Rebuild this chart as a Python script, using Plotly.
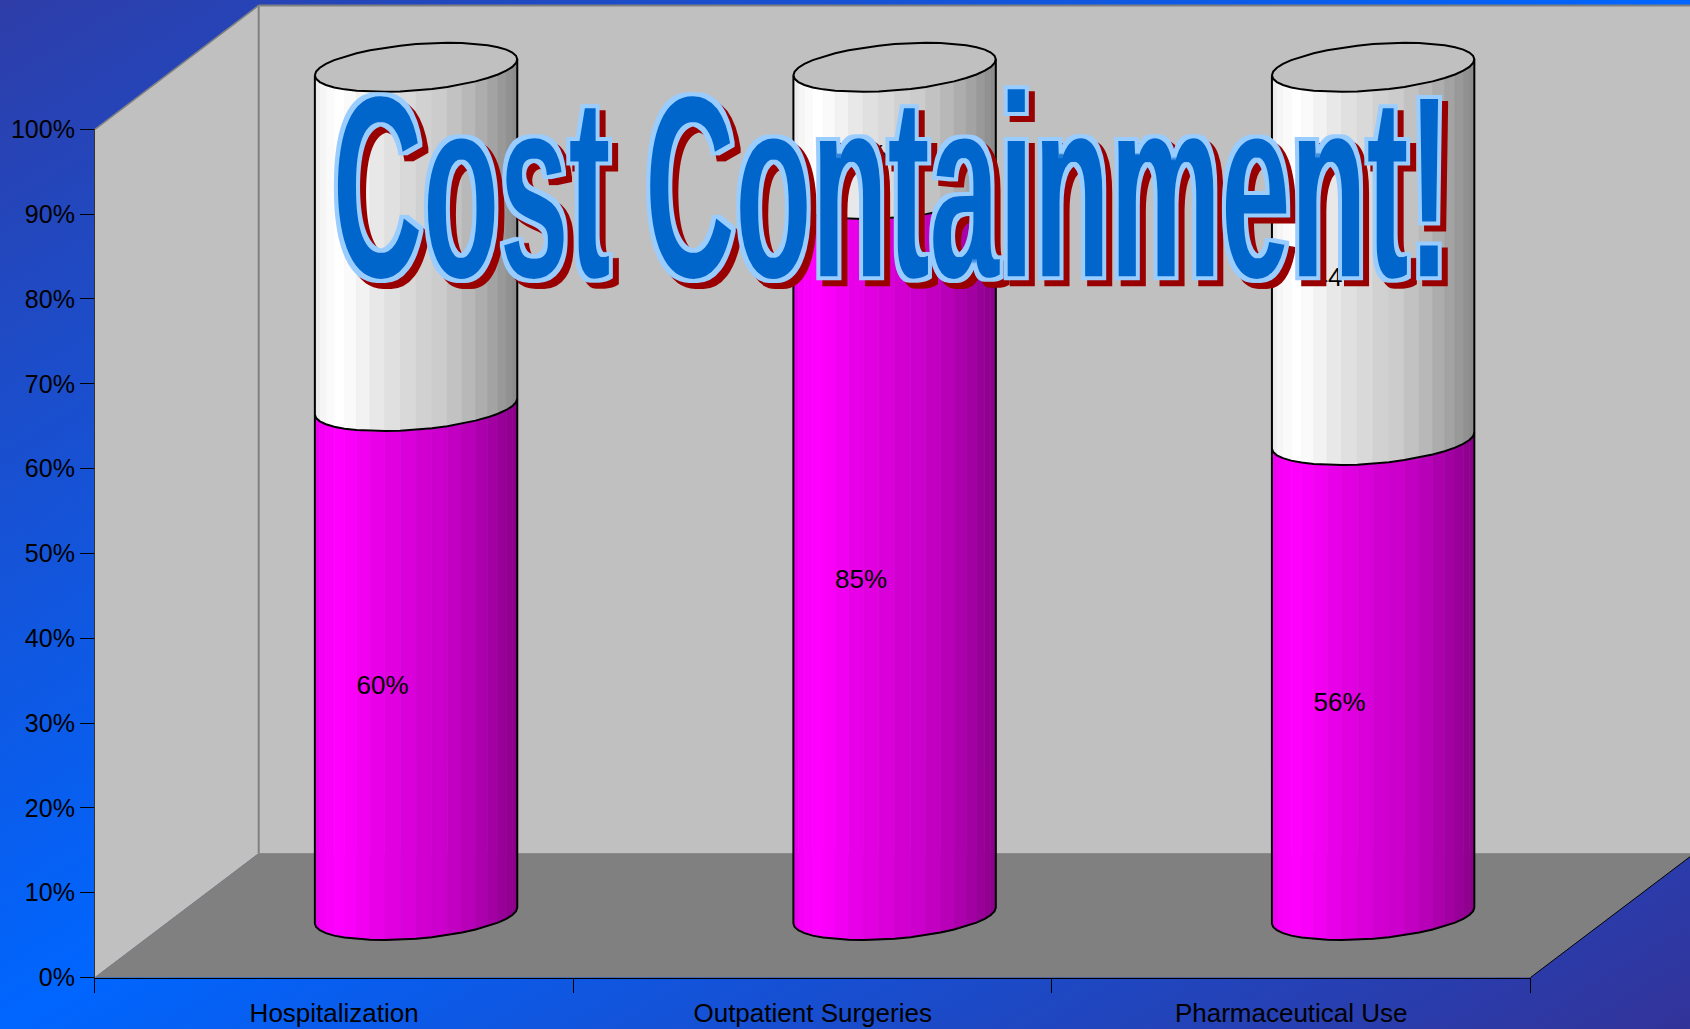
import base64
import math
import plotly.graph_objects as go

# ---- data ----
CATEGORIES = ["Hospitalization", "Outpatient Surgeries", "Pharmaceutical Use"]
LOWER_PCT = [60, 85, 56]
UPPER_PCT = [40, 15, 44]
TITLE = "Cost Containment!"
SHADES = [.90, .93, .96, .98, 1.0, .98, .95, .91, .88, .85,
          .82, .80, .76, .72, .68, .64, .60, .57, .55, .53]

# ---- geometry (px of the 1690x1029 page) ----
W, H = 1690, 1029
AX_L, AX_R, AX_B, AX_T = 94.9, 1530.5, 977.5, 129.3
DEPTH_X, DEPTH_Y = 163.8, 124.0
K = (AX_B - AX_T) / 100.0
UNIT_X = (AX_R - AX_L) / 3.0
R_PX, SHEAR_PX, MINOR_PX = 101.2, 8.0, 23.2
R = R_PX / UNIT_X
PAD = 6  # % of overlay range kept around the cylinders
LABEL_DX = -0.070
LABEL_DY = -26.0 / K


def fx(px):
    return px / W


def fy(py):
    return 1 - py / H


def path(points):
    return "M" + " L".join(f"{fx(x):.5f},{fy(y):.5f}" for x, y in points) + " Z"


def ring(center, value, phi):
    return (center + R * math.cos(phi),
            value + (SHEAR_PX * math.cos(phi) - MINOR_PX * math.sin(phi)) / K)


N = len(SHADES)
FRONT = [math.pi * (1 - i / N) for i in range(N + 1)]
AROUND = [math.pi * (1 - i / N) for i in range(2 * N + 1)]

fig = go.Figure()

# invisible carrier so that the category axis shows its categories
fig.add_trace(go.Scatter(x=CATEGORIES, y=LOWER_PCT, mode="markers",
                         marker=dict(opacity=0), hoverinfo="skip",
                         xaxis="x", yaxis="y"))

centers = list(range(len(CATEGORIES)))


def facets(lows, highs, colour):
    for i, s in enumerate(SHADES):
        xs, ys = [], []
        for c, lo, hi in zip(centers, lows, highs):
            a, b = FRONT[i], FRONT[i + 1]
            poly = [ring(c, lo, a), ring(c, lo, b), ring(c, hi, b), ring(c, hi, a), ring(c, lo, a)]
            xs += [p[0] for p in poly] + [None]
            ys += [p[1] for p in poly] + [None]
        col = colour(s)
        fig.add_trace(go.Scatter(x=xs, y=ys, mode="lines", fill="toself", fillcolor=col,
                                 line=dict(color=col, width=0.6), hoverinfo="skip",
                                 xaxis="x2", yaxis="y2"))


tops = [a + b for a, b in zip(LOWER_PCT, UPPER_PCT)]


def magenta(s):
    v = round(255 * s)
    return f"rgb({v},0,{v})"


def white(s):
    v = round(255 * s)
    return f"rgb({v},{v},{v})"


facets([0] * 3, LOWER_PCT, magenta)
facets(LOWER_PCT, tops, white)

# lids
lx, ly = [], []
for c, t in zip(centers, tops):
    pts = [ring(c, t, p) for p in AROUND]
    lx += [p[0] for p in pts] + [None]
    ly += [p[1] for p in pts] + [None]
fig.add_trace(go.Scatter(x=lx, y=ly, mode="lines", fill="toself", fillcolor="#c0c0c0",
                         line=dict(color="#000000", width=2), hoverinfo="skip",
                         xaxis="x2", yaxis="y2"))

# outlines
ox, oy = [], []
for c, lo, t in zip(centers, LOWER_PCT, tops):
    pts = [ring(c, t, math.pi)] + [ring(c, 0, p) for p in FRONT] + [ring(c, t, 0)]
    ox += [p[0] for p in pts] + [None]
    oy += [p[1] for p in pts] + [None]
    pts = [ring(c, lo, p) for p in FRONT]
    ox += [p[0] for p in pts] + [None]
    oy += [p[1] for p in pts] + [None]
fig.add_trace(go.Scatter(x=ox, y=oy, mode="lines", line=dict(color="#000000", width=2),
                         hoverinfo="skip", xaxis="x2", yaxis="y2"))

# data labels
lab_x, lab_y, lab_t = [], [], []
for c, lo, up in zip(centers, LOWER_PCT, UPPER_PCT):
    lab_x += [c + LABEL_DX, c + LABEL_DX]
    lab_y += [lo / 2 + LABEL_DY, lo + up / 2 + LABEL_DY]
    lab_t += [f"{lo}%", f"{up}%"]
fig.add_trace(go.Scatter(x=lab_x, y=lab_y, text=lab_t, mode="text", textposition="middle center",
                         textfont=dict(family="Liberation Sans", size=26, color="#000000"),
                         hoverinfo="skip", xaxis="x2", yaxis="y2"))

# walls and floor
WALL_L = AX_L + DEPTH_X
WALL_T = 5.4
FLOOR_B = AX_B - DEPTH_Y
FAR_R = AX_R + DEPTH_X
shapes = [
    dict(type="path", path=path([(WALL_L, WALL_T), (FAR_R, WALL_T), (FAR_R, FLOOR_B), (WALL_L, FLOOR_B)]),
         fillcolor="#c0c0c0", line=dict(width=0)),
    dict(type="path", path=path([(AX_L, AX_T), (WALL_L, WALL_T), (WALL_L, FLOOR_B), (AX_L, AX_B)]),
         fillcolor="#c0c0c0", line=dict(width=0)),
    dict(type="path", path=path([(AX_L, AX_B), (WALL_L, FLOOR_B), (FAR_R, FLOOR_B), (AX_R, AX_B)]),
         fillcolor="#808080", line=dict(width=0)),
]
for (x0, y0, x1, y1, col, wd) in [
    (AX_L, AX_T, WALL_L, WALL_T, "#808080", 1.5),
    (WALL_L, WALL_T, FAR_R, WALL_T, "#808080", 2),
    (WALL_L, WALL_T, WALL_L, FLOOR_B, "#808080", 2),
    (AX_L, AX_B, WALL_L, FLOOR_B, "#808080", 1),
    (WALL_L, FLOOR_B, FAR_R, FLOOR_B, "#8a8a8a", 1),
    (AX_R, AX_B, FAR_R, FLOOR_B, "#000000", 1),
]:
    shapes.append(dict(type="line", xref="paper", yref="paper", x0=fx(x0), y0=fy(y0), x1=fx(x1), y1=fy(y1),
                       line=dict(color=col, width=wd)))
for s in shapes:
    s.update(layer="below", xref="paper", yref="paper")

# background gradient
svg = ('<svg xmlns="http://www.w3.org/2000/svg" width="1690" height="1029" preserveAspectRatio="none">'
       '<defs><linearGradient id="g" x1="0" y1="0" x2="1" y2="1">'
       '<stop offset="0" stop-color="#2e3da8"/><stop offset="0.5" stop-color="#0066ff"/>'
       '<stop offset="1" stop-color="#333399"/></linearGradient></defs>'
       '<rect width="1690" height="1029" fill="url(#g)"/></svg>')
bg = "data:image/svg+xml;base64," + base64.b64encode(svg.encode()).decode()

dom_x = [fx(AX_L), fx(AX_R)]
dom_y = [fy(AX_B), fy(AX_T)]
dom_x2 = [fx(AX_L + DEPTH_X / 2), fx(AX_R + DEPTH_X / 2)]
dom_y2 = [fy(AX_B - DEPTH_Y / 2 + PAD * K), fy(AX_T - DEPTH_Y / 2 - PAD * K)]

fig.update_layout(
    width=W, height=H, margin=dict(l=0, r=0, t=0, b=0, pad=0),
    paper_bgcolor="#0066ff", plot_bgcolor="rgba(0,0,0,0)", showlegend=False,
    hovermode=False, shapes=shapes,
    images=[dict(source=bg, xref="paper", yref="paper", x=0, y=1, sizex=1, sizey=1,
                 sizing="stretch", xanchor="left", yanchor="top", layer="below")],
    xaxis=dict(domain=dom_x, type="category", categoryorder="array", categoryarray=CATEGORIES,
               range=[-0.5, 2.5], showgrid=False, zeroline=False, showline=True, linecolor="#000000",
               linewidth=1, ticks="outside", tickson="boundaries", ticklen=14, tickcolor="#000000",
               tickfont=dict(family="Liberation Sans", size=26, color="#000000"), ticklabelstandoff=12,
               automargin=False, fixedrange=True, anchor="y"),
    yaxis=dict(domain=dom_y, range=[0, 100], dtick=10, ticksuffix="%", showgrid=False, zeroline=False,
               showline=True, linecolor="#333333", linewidth=1, ticks="outside", ticklen=14,
               tickcolor="#000000", tickfont=dict(family="Liberation Sans", size=25, color="#000000"),
               automargin=False, fixedrange=True, anchor="x"),
    xaxis2=dict(domain=dom_x2, range=[-0.5, 2.5], visible=False, fixedrange=True, anchor="y2"),
    yaxis2=dict(domain=dom_y2, range=[-PAD, 100 + PAD], visible=False, fixedrange=True, anchor="x2"),
    annotations=[dict(text=TITLE, xref="paper", yref="paper", x=fx(891), y=fy(200), xanchor="center",
                      yanchor="middle", showarrow=False,
                      font=dict(family="Liberation Sans", size=128, color="#0066cc", weight="bold"))],
)

post = """
document.body.style.margin = '0';
document.body.style.overflow = 'hidden';
var gd = document.getElementById('{plot_id}');
var ann = gd.querySelector('.annotation');
var txt = ann.querySelector('.annotation-text');
var r = txt.getBoundingClientRect();
var base = r.top + 0.905 * 128;
var NS = 'http://www.w3.org/2000/svg';
var svg = ann.ownerSVGElement;
var defs = document.createElementNS(NS, 'defs');
defs.innerHTML = '<filter id="wa" filterUnits="userSpaceOnUse" primitiveUnits="userSpaceOnUse" x="0" y="0" width="1690" height="1029" color-interpolation-filters="sRGB">' +
 '<feMorphology in="SourceAlpha" operator="dilate" radius="1.6 0" result="fat"/>' +
 '<feMorphology in="fat" operator="dilate" radius="1.6" result="d"/>' +
 '<feMorphology in="fat" operator="erode" radius="1.6" result="e"/>' +
 '<feOffset in="d" dx="6" dy="6" result="ds"/>' +
 '<feFlood flood-color="#990000"/><feComposite in2="ds" operator="in" result="shadow"/>' +
 '<feFlood flood-color="#99ccff"/><feComposite in2="d" operator="in" result="edge"/>' +
 '<feFlood flood-color="#0066cc"/><feComposite in2="e" operator="in" result="fill"/>' +
 '<feMerge><feMergeNode in="shadow"/><feMergeNode in="edge"/><feMergeNode in="fill"/></feMerge></filter>';
svg.insertBefore(defs, svg.firstChild);
var wrap = document.createElementNS(NS, 'g');
var inner = document.createElementNS(NS, 'g');
ann.parentNode.insertBefore(wrap, ann);
wrap.appendChild(inner);
inner.appendChild(ann);
wrap.setAttribute('filter', 'url(#wa)');
inner.setAttribute('transform', 'translate(891,278) scale(0.976,2.06) translate(-891,' + (-base) + ')');
"""

fig.write_html("out.html", post_script=post, config=dict(displayModeBar=False, staticPlot=True))
